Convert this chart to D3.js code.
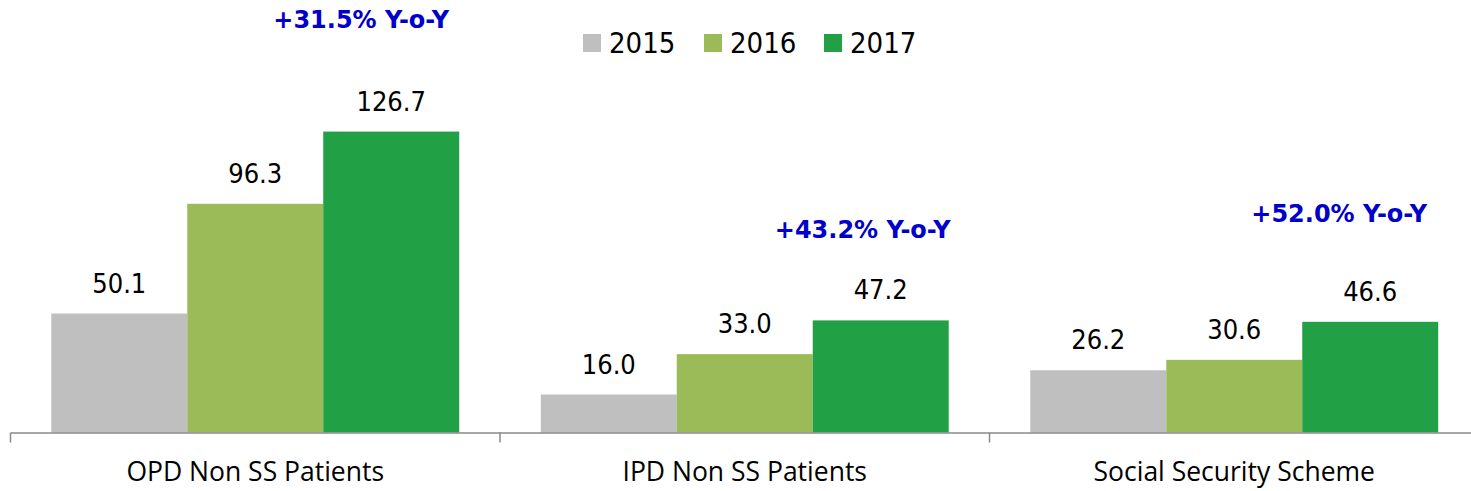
<!DOCTYPE html>
<html>
<head>
<meta charset="utf-8">
<script src="https://cdn.jsdelivr.net/npm/d3@7/dist/d3.min.js"></script>
<style>
  html, body { margin: 0; padding: 0; background: #fff; }
  svg { display: block; }
</style>
</head>
<body>
<svg id="chart" width="1471" height="491"></svg>
<script>
// Patient revenue by segment, 2015–2017
const categories = ["OPD Non SS Patients", "IPD Non SS Patients", "Social Security Scheme"];
const years = ["2015", "2016", "2017"];
const values2015 = [50.1, 16.0, 26.2];
const values2016 = [96.3, 33.0, 30.6];
const values2017 = [126.7, 47.2, 46.6];
const growthLabels = ["+31.5% Y-o-Y", "+43.2% Y-o-Y", "+52.0% Y-o-Y"];
const yMax = 140;

const seriesValues = [values2015, values2016, values2017];
const colors = { "2015": "#BFBFBF", "2016": "#9BBB59", "2017": "#21A045" };

const svg = d3.select("#chart");
const numFont = "'DejaVu Sans Condensed', 'DejaVu Sans', sans-serif";
const boldFont = "'DejaVu Sans', sans-serif";
const catFont = "'Open Sans', 'Noto Sans', sans-serif";

const x0 = d3.scaleBand().domain(categories).range([10.5, 1479]).paddingInner(0).paddingOuter(0);
const x1 = d3.scaleBand().domain(years).range([0, x0.bandwidth()]).paddingInner(0).paddingOuter(0.3);
const y = d3.scaleLinear().domain([0, yMax]).range([432.5, 100]);

const rows = categories.map((c, i) => ({
  category: c,
  growth: growthLabels[i],
  bars: years.map((yr, j) => ({ year: yr, value: seriesValues[j][i] }))
}));

// bars
const groups = svg.append("g").selectAll("g")
  .data(rows).join("g")
  .attr("transform", d => `translate(${x0(d.category)},0)`);

groups.selectAll("rect")
  .data(d => d.bars).join("rect")
  .attr("x", d => x1(d.year))
  .attr("y", d => y(d.value))
  .attr("width", x1.bandwidth())
  .attr("height", d => y(0) - y(d.value))
  .attr("fill", d => colors[d.year]);

// value labels
groups.selectAll("text.val")
  .data(d => d.bars).join("text")
  .attr("class", "val")
  .attr("x", d => x1(d.year) + x1.bandwidth() / 2)
  .attr("y", d => y(d.value) - 21)
  .attr("text-anchor", "middle")
  .attr("font-family", numFont)
  .attr("font-size", 27)
  .attr("fill", "#000")
  .text(d => d.value.toFixed(1));

// growth annotations placed relative to the 2017 bar
const growthDx = [-30, -18, -31];
const growthDy = [104, 82, 100];
groups.append("text")
  .attr("x", (d, i) => x1("2017") + x1.bandwidth() / 2 + growthDx[i])
  .attr("y", (d, i) => y(d.bars[2].value) - growthDy[i])
  .attr("text-anchor", "middle")
  .attr("font-family", boldFont)
  .attr("font-weight", "bold")
  .attr("font-size", 24)
  .attr("fill", "#0000CC")
  .text(d => d.growth);

// category axis
const axis = d3.axisBottom(x0).tickSizeInner(0).tickSizeOuter(0).tickFormat("");
const axisG = svg.append("g").attr("transform", `translate(0,${y(0)})`).call(axis);
axisG.select(".domain").attr("stroke", "#898989").attr("stroke-width", 1.5);

// group separator ticks
const bounds = categories.map(c => x0(c)).concat([x0.range()[1]]);
axisG.selectAll("line.sep")
  .data(bounds).join("line")
  .attr("class", "sep")
  .attr("x1", d => d).attr("x2", d => d)
  .attr("y1", 0).attr("y2", 10)
  .attr("stroke", "#898989").attr("stroke-width", 1.5);

svg.append("g").selectAll("text")
  .data(categories).join("text")
  .attr("x", d => x0(d) + x0.bandwidth() / 2)
  .attr("y", 481)
  .attr("text-anchor", "middle")
  .attr("font-family", catFont)
  .attr("font-size", 26.5)
  .attr("fill", "#000")
  .text(d => d);

// legend
const legendX = [583, 704, 824];
const legend = svg.append("g").selectAll("g")
  .data(years).join("g")
  .attr("transform", (d, i) => `translate(${legendX[i]},34)`);
legend.append("rect")
  .attr("width", 18).attr("height", 18)
  .attr("fill", d => colors[d]);
legend.append("text")
  .attr("x", 26).attr("y", 19)
  .attr("font-family", numFont)
  .attr("font-size", 29)
  .attr("fill", "#000")
  .text(d => d);
</script>
</body>
</html>
